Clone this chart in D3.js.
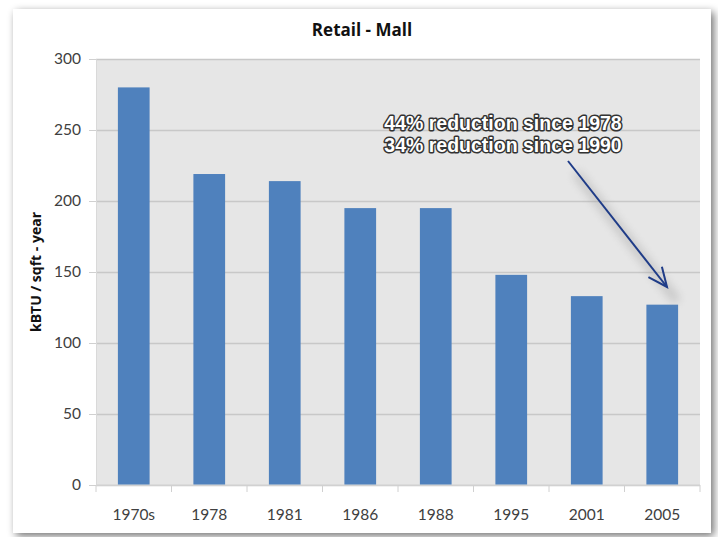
<!DOCTYPE html>
<html>
<head>
<meta charset="utf-8">
<script src="https://cdn.jsdelivr.net/npm/d3@7"></script>
<style>
  body { margin: 0; background: #fff; }
  svg { display: block; }
</style>
</head>
<body>
<div id="chart"></div>
<script>
// chart data
const categories = ['1970s', '1978', '1981', '1986', '1988', '1995', '2001', '2005'];
const values = [280, 219, 214, 195, 195, 148, 133, 127];
const yTicks = [0, 50, 100, 150, 200, 250, 300];
const titleText = 'Retail - Mall';
const yLabel = 'kBTU / sqft - year';
const notes = ['44% reduction since 1978', '34% reduction since 1990'];

const width = 718;
const height = 537;
const plot = { left: 96, right: 700, top: 59, bottom: 485 };

const svg = d3.select('#chart')
  .append('svg')
  .attr('width', width)
  .attr('height', height);

const defs = svg.append('defs');
const shadow = defs.append('filter').attr('id', 'shadow')
  .attr('x', '-5%').attr('y', '-5%').attr('width', '110%').attr('height', '110%');
shadow.append('feGaussianBlur').attr('in', 'SourceAlpha').attr('stdDeviation', 4);
shadow.append('feOffset').attr('dx', 3).attr('dy', 3).attr('result', 'b');
shadow.append('feComponentTransfer').append('feFuncA').attr('type', 'linear').attr('slope', 0.55);
const merge = shadow.append('feMerge');
merge.append('feMergeNode');
merge.append('feMergeNode').attr('in', 'SourceGraphic');

const glow = defs.append('filter').attr('id', 'glow')
  .attr('x', '-50%').attr('y', '-50%').attr('width', '200%').attr('height', '200%');
glow.append('feGaussianBlur').attr('stdDeviation', 5);

// card
svg.append('rect')
  .attr('x', 13).attr('y', 9)
  .attr('width', 698).attr('height', 524)
  .attr('fill', '#fff')
  .attr('filter', 'url(#shadow)');

const x = d3.scaleBand()
  .domain(categories)
  .range([plot.left, plot.right])
  .paddingInner(0.58)
  .paddingOuter(0.29);

const y = d3.scaleLinear()
  .domain([0, 300])
  .range([plot.bottom, plot.top]);

// plot background
svg.append('rect')
  .attr('x', plot.left).attr('y', plot.top)
  .attr('width', plot.right - plot.left)
  .attr('height', plot.bottom - plot.top)
  .attr('fill', '#e6e6e6');

// gridlines
svg.append('g')
  .attr('transform', `translate(${plot.left},0)`)
  .call(d3.axisLeft(y).tickValues(yTicks).tickFormat('').tickSize(-(plot.right - plot.left)))
  .call(g => g.select('.domain').remove())
  .call(g => g.selectAll('line').attr('stroke', '#c8c8c8').attr('stroke-width', 1.5));

// y axis
svg.append('g')
  .attr('transform', `translate(${plot.left},0)`)
  .call(d3.axisLeft(y).tickValues(yTicks).tickSize(7).tickPadding(8))
  .call(g => g.select('.domain').attr('stroke', '#d9d9d9'))
  .call(g => g.selectAll('line').attr('stroke', '#d0d0d0'))
  .call(g => g.selectAll('text')
    .attr('fill', '#404040')
    .style('font-family', 'Lato, "Open Sans", sans-serif')
    .style('font-size', '15.5px'));

// bars
svg.append('g').selectAll('rect')
  .data(values)
  .join('rect')
  .attr('x', (d, i) => x(categories[i]))
  .attr('y', d => y(d))
  .attr('width', x.bandwidth())
  .attr('height', d => y(0) - y(d))
  .attr('fill', '#4f81bd');

// x axis with ticks at band boundaries
const xAxis = svg.append('g').attr('transform', `translate(0,${plot.bottom})`);
xAxis.append('line')
  .attr('x1', plot.left).attr('x2', plot.right)
  .attr('stroke', '#d9d9d9');
xAxis.selectAll('.tick-mark')
  .data(d3.range(categories.length + 1))
  .join('line')
  .attr('class', 'tick-mark')
  .attr('x1', i => plot.left + i * x.step())
  .attr('x2', i => plot.left + i * x.step())
  .attr('y1', 0).attr('y2', 7)
  .attr('stroke', '#d0d0d0');
xAxis.selectAll('text')
  .data(categories)
  .join('text')
  .attr('x', d => x(d) + x.bandwidth() / 2)
  .attr('y', 35)
  .attr('text-anchor', 'middle')
  .attr('fill', '#404040')
  .style('font-family', 'Lato, "Open Sans", sans-serif')
  .style('font-size', '15.5px')
  .text(d => d);

// title
svg.append('text')
  .attr('x', 362).attr('y', 36)
  .attr('text-anchor', 'middle')
  .style('font-family', '"Open Sans", sans-serif')
  .style('font-weight', 'bold')
  .style('font-size', '17px')
  .attr('fill', '#111')
  .text(titleText);

// y label
svg.append('text')
  .attr('transform', `translate(41,${(plot.top + plot.bottom) / 2}) rotate(-90)`)
  .attr('text-anchor', 'middle')
  .style('font-family', '"Open Sans", sans-serif')
  .style('font-weight', 'bold')
  .style('font-size', '14px')
  .attr('fill', '#111')
  .text(yLabel);

// annotation arrow
const tipX = 667, tipY = 287;
const startX = 568, startY = 161;

svg.append('line')
  .attr('x1', startX + 8).attr('y1', startY + 12)
  .attr('x2', tipX + 10).attr('y2', tipY + 14)
  .attr('stroke', '#999').attr('stroke-width', 8)
  .attr('opacity', 0.45)
  .attr('filter', 'url(#glow)');

svg.append('line')
  .attr('x1', startX).attr('y1', startY)
  .attr('x2', tipX).attr('y2', tipY)
  .attr('stroke', '#1f3c88').attr('stroke-width', 2);

const ang = Math.atan2(tipY - startY, tipX - startX);
const headLen = 21, spread = 0.42;
svg.append('path')
  .attr('d', d3.line()([
    [tipX - headLen * Math.cos(ang - spread), tipY - headLen * Math.sin(ang - spread)],
    [tipX, tipY],
    [tipX - headLen * Math.cos(ang + spread), tipY - headLen * Math.sin(ang + spread)]
  ]))
  .attr('fill', 'none')
  .attr('stroke', '#1f3c88').attr('stroke-width', 2);

// annotation text, outlined
svg.append('g').selectAll('text')
  .data(notes)
  .join('text')
  .attr('x', 503)
  .attr('y', (d, i) => 130 + i * 22)
  .attr('text-anchor', 'middle')
  .style('font-family', '"Liberation Sans", Arial, sans-serif')
  .style('font-weight', 'bold')
  .style('font-size', '19.5px')
  .attr('fill', '#fff')
  .attr('stroke', '#333')
  .attr('stroke-width', 3)
  .attr('stroke-linejoin', 'round')
  .attr('paint-order', 'stroke')
  .text(d => d);
</script>
</body>
</html>
